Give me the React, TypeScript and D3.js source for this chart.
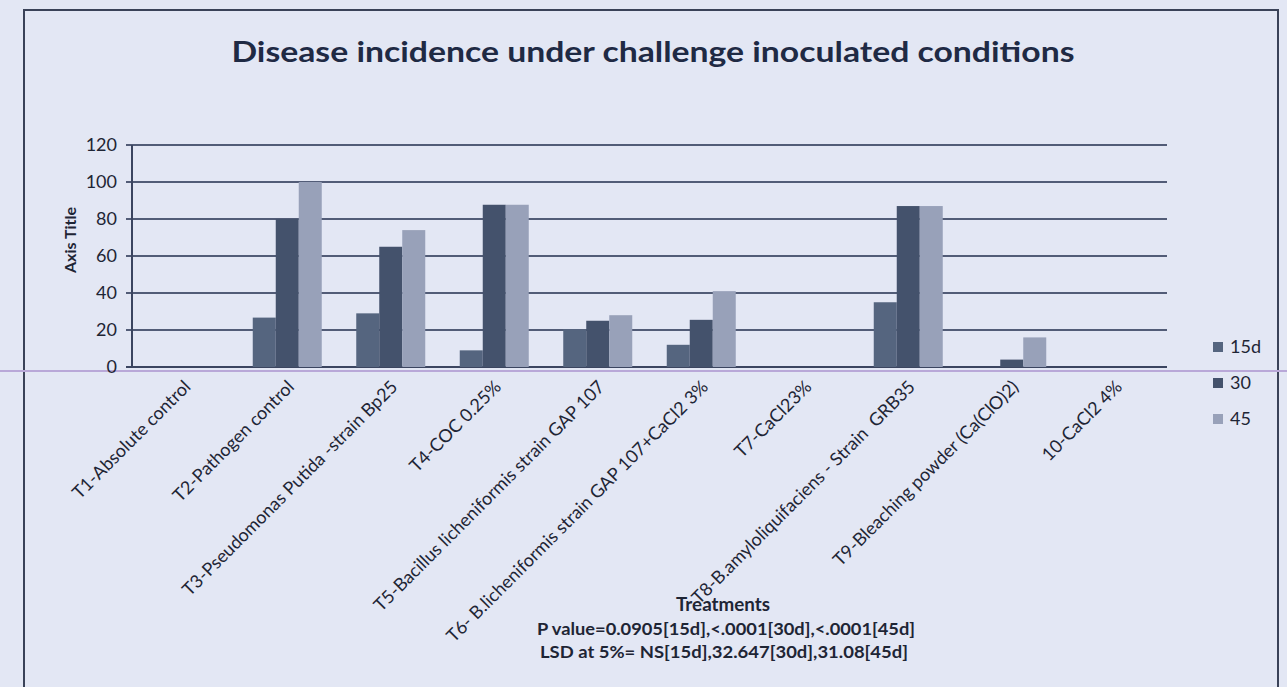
import React from "react";
import * as d3 from "d3";

const categories = [
  "T1-Absolute control",
  "T2-Pathogen control",
  "T3-Pseudomonas Putida -strain Bp25",
  "T4-COC 0.25%",
  "T5-Bacillus licheniformis strain GAP 107",
  "T6- B.licheniformis strain GAP 107+CaCl2 3%",
  "T7-CaCl23%",
  "T8-B.amyloliquifaciens - Strain  GRB35",
  "T9-Bleaching powder (Ca(ClO)2)",
  "10-CaCl2 4%",
];
const seriesNames = ["15d", "30", "45"];
const values15d = [0, 26.7, 29, 9, 20.5, 12, 0, 35, 0, 0];
const values30 = [0, 80, 65, 87.7, 25, 25.5, 0, 87, 4, 0];
const values45 = [0, 100, 74, 87.7, 28, 41, 0, 87, 16, 0];
const yTicks = [0, 20, 40, 60, 80, 100, 120];
const colors = ["#55657f", "#44526c", "#98a1b9"];

const W = 1287;
const H = 687;
const plot = { left: 132, right: 1167, top: 145, bottom: 367 };

export default function App() {
  const x0 = d3
    .scaleBand<string>()
    .domain(categories)
    .range([plot.left, plot.right])
    .paddingInner(0)
    .paddingOuter(0);
  const bw = x0.bandwidth();
  const groupW = (bw * 3) / 4.5;
  const x1 = d3
    .scaleBand<string>()
    .domain(seriesNames)
    .range([0, groupW])
    .padding(0);
  const y = d3.scaleLinear().domain([0, 120]).range([plot.bottom, plot.top]);
  const series = [values15d, values30, values45];
  const font = "Lato, 'Open Sans', sans-serif";
  const txt = "#1e2535";

  return (
    <svg
      width={W}
      height={H}
      style={{ position: "absolute", left: 0, top: 0 }}
      fontFamily={font}
    >
      <rect x={0} y={0} width={W} height={H} fill="#e3e7f4" />
      {/* chart frame */}
      <path
        d={`M24,${H} L24,10 L1278,10 L1278,${H}`}
        fill="none"
        stroke="#3a4258"
        strokeWidth={2}
      />
      {/* scan artifact line */}
      <line x1={0} x2={W} y1={371} y2={371} stroke="#b9a8d8" strokeWidth={2} />

      <text
        x={653}
        y={62}
        textAnchor="middle"
        fontSize={29}
        fontWeight={700}
        fill="#1f2a44"
        textLength={843}
        lengthAdjust="spacingAndGlyphs"
      >
        Disease incidence under challenge inoculated conditions
      </text>

      {/* gridlines */}
      {yTicks.map((t) => (
        <g key={t}>
          <line
            x1={plot.left - 6}
            x2={plot.right}
            y1={y(t)}
            y2={y(t)}
            stroke={t === 0 ? "#3b4560" : "#525c77"}
            strokeWidth={t === 0 ? 2.2 : 1.8}
          />
          <text
            x={117}
            y={y(t)}
            dy="0.35em"
            textAnchor="end"
            fontSize={18}
            fill={txt}
          >
            {t}
          </text>
        </g>
      ))}
      <line
        x1={plot.left}
        x2={plot.left}
        y1={plot.top}
        y2={plot.bottom}
        stroke="#3b4560"
        strokeWidth={2}
      />

      {/* bars */}
      {categories.map((c, i) => {
        const gx = (x0(c) as number) + (bw - groupW) / 2;
        return (
          <g key={c}>
            {series.map((s, j) =>
              s[i] > 0 ? (
                <rect
                  key={j}
                  x={gx + (x1(seriesNames[j]) as number)}
                  y={y(s[i])}
                  width={x1.bandwidth()}
                  height={y(0) - y(s[i])}
                  fill={colors[j]}
                />
              ) : null
            )}
          </g>
        );
      })}

      {/* x labels */}
      {categories.map((c) => {
        const cx = (x0(c) as number) + bw / 2;
        return (
          <text
            key={c}
            transform={`translate(${cx + 8},${388}) rotate(-45)`}
            textAnchor="end"
            fontSize={18}
            fill={txt}
            style={{ whiteSpace: "pre" }}
          >
            {c}
          </text>
        );
      })}

      {/* axis titles */}
      <text
        transform={`translate(76,240) rotate(-90)`}
        textAnchor="middle"
        fontSize={16}
        fontWeight={700}
        fill={txt}
      >
        Axis Title
      </text>
      <text
        x={723}
        y={611}
        textAnchor="middle"
        fontSize={18}
        fontWeight={700}
        fill={txt}
        textLength={94}
        lengthAdjust="spacingAndGlyphs"
      >
        Treatments
      </text>
      <text
        x={726}
        y={635}
        textAnchor="middle"
        fontSize={17.5}
        fontWeight={700}
        fill={txt}
        textLength={378}
        lengthAdjust="spacingAndGlyphs"
      >
        P value=0.0905[15d],&lt;.0001[30d],&lt;.0001[45d]
      </text>
      <text
        x={724}
        y={658}
        textAnchor="middle"
        fontSize={17.5}
        fontWeight={700}
        fill={txt}
        textLength={368}
        lengthAdjust="spacingAndGlyphs"
      >
        LSD at 5%= NS[15d],32.647[30d],31.08[45d]
      </text>

      {/* legend */}
      {seriesNames.map((n, j) => (
        <g key={n} transform={`translate(1213,${347 + j * 36})`}>
          <rect x={0} y={-5} width={10} height={10} fill={colors[j]} />
          <text x={17} y={0} dy="0.35em" fontSize={18} fill={txt}>
            {n}
          </text>
        </g>
      ))}
    </svg>
  );
}
